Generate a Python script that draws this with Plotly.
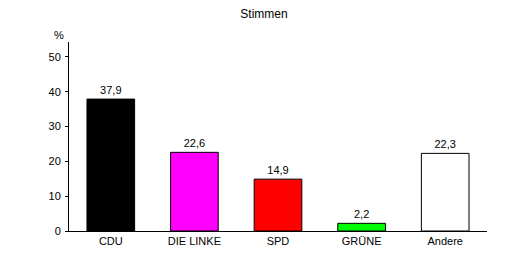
import plotly.graph_objects as go

parties = ["CDU", "DIE LINKE", "SPD", "GRÜNE", "Andere"]
values = [37.9, 22.6, 14.9, 2.2, 22.3]
labels = ["37,9", "22,6", "14,9", "2,2", "22,3"]
colors = ["#000000", "#ff00ff", "#ff0000", "#00ff00", "#ffffff"]
yticks = [0, 10, 20, 30, 40, 50]

fig = go.Figure(go.Bar(
    x=parties, y=values, text=labels, textposition="outside",
    textfont=dict(family="Liberation Sans, Arial", size=11, color="black"),
    marker=dict(color=colors, line=dict(color="black", width=1)),
    cliponaxis=False,
))
fig.update_layout(
    width=528, height=259,
    margin=dict(l=69, r=41, t=42, b=28),
    paper_bgcolor="white", plot_bgcolor="white",
    bargap=0.43,
    showlegend=False,
    font=dict(family="Liberation Sans, Arial", size=11, color="black"),
    title=dict(text="Stimmen", x=0.5, xanchor="center", y=1 - 14/259, yanchor="middle",
               font=dict(size=12, family="Liberation Sans, Arial", color="black")),
    annotations=[dict(text="%", xref="paper", yref="paper", x=-0.023, y=1.037,
                      xanchor="center", yanchor="middle", showarrow=False,
                      font=dict(size=11))],
)
fig.update_yaxes(range=[0, 54.3], tickvals=yticks, ticks="outside", ticklen=3,
                 tickcolor="black", showline=True, linecolor="black", linewidth=1,
                 showgrid=False, zeroline=False, ticklabelstandoff=2)
fig.update_xaxes(showline=True, linecolor="black", linewidth=1, ticks="",
                 showgrid=False)
fig.write_html("out.html")
